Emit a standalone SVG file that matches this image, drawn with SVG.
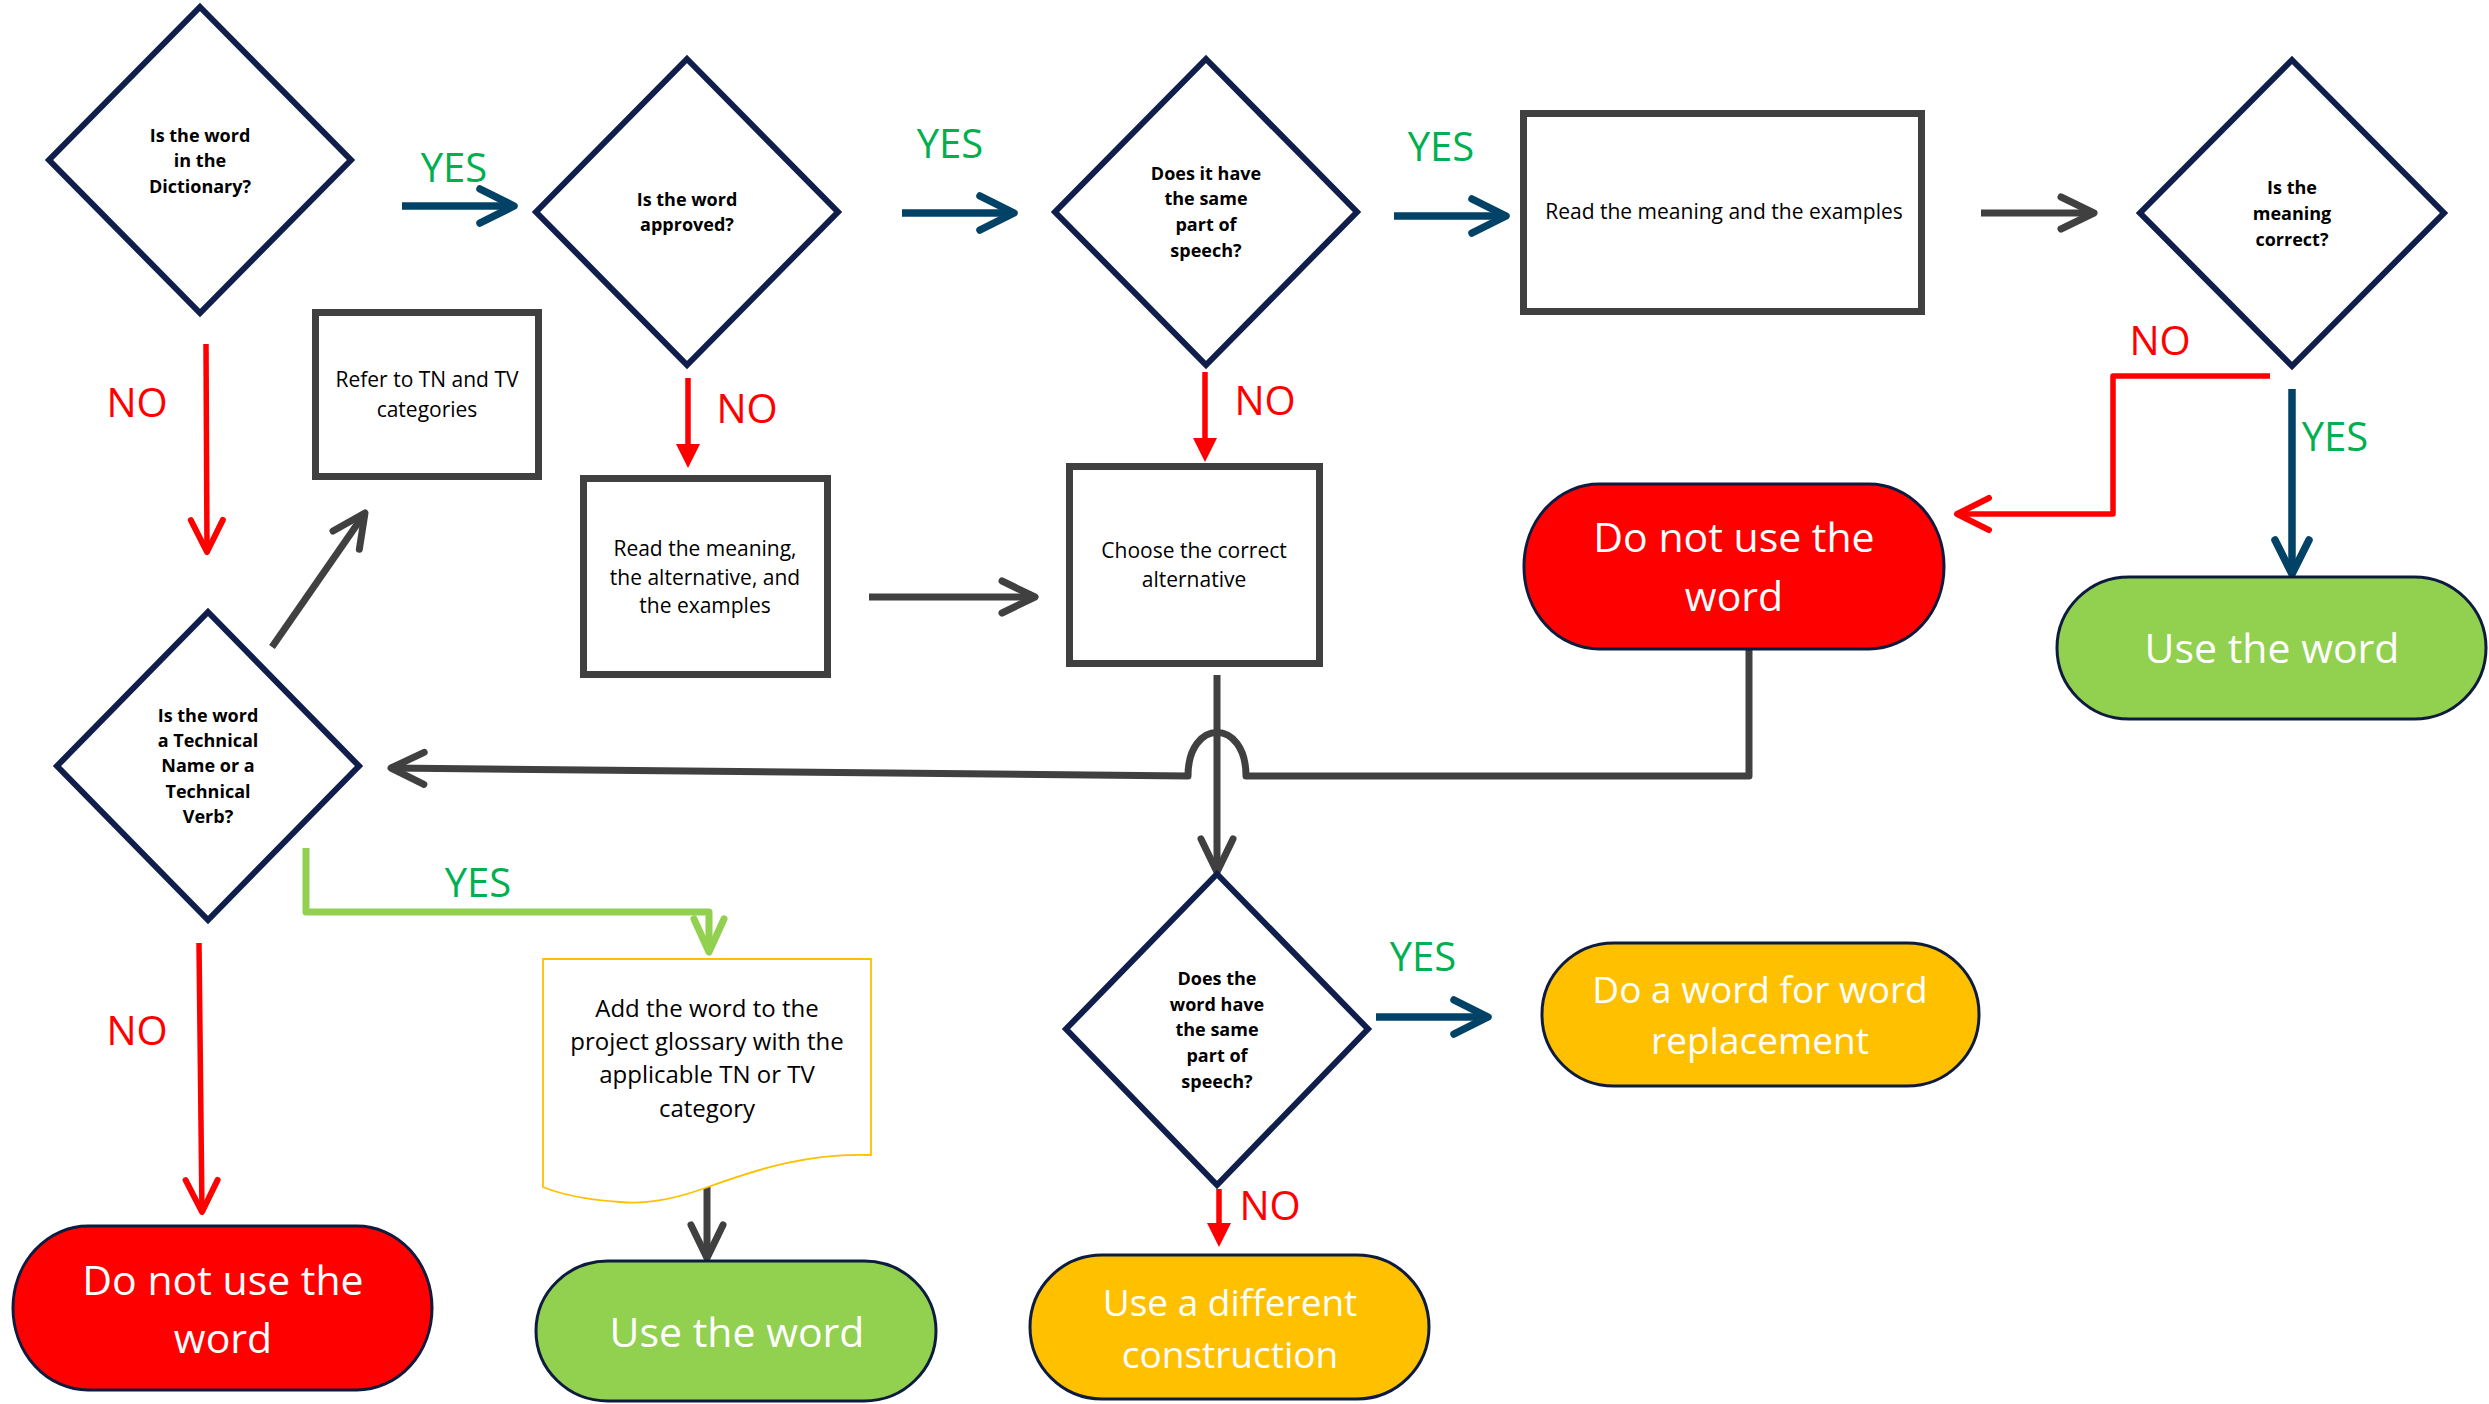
<svg xmlns="http://www.w3.org/2000/svg" width="2489" height="1404" viewBox="0 0 2489 1404">
<style>
text{font-family:"Open Sans","Liberation Sans",sans-serif;text-anchor:middle}
.dia{fill:#fff;stroke:#0F1E4B;stroke-width:6;stroke-linejoin:miter}
.dt{font-size:18px;font-weight:bold;fill:#000}
.box{fill:#fff;stroke:#404040;stroke-width:7}
.bt{font-size:21px;fill:#000}
.term{stroke:#0D1B3E;stroke-width:3}
.tt{fill:#fff}
.yes{font-size:40px;fill:#00B050}
.no{font-size:40px;fill:#FF0000}
.c{fill:none;stroke-linejoin:round}
.blue{stroke:#024266;stroke-width:7.5}
.gray{stroke:#404040;stroke-width:7}
.red{stroke:#FF0000;stroke-width:5.5}
.green{stroke:#92D050;stroke-width:7}
</style>
<defs>
<marker id="mBlue" markerUnits="userSpaceOnUse" orient="auto" refX="0" refY="0" viewBox="-40 -22 48 44" markerWidth="48" markerHeight="44" overflow="visible"><path d="M-34,-17 L0,0 L-34,17" fill="none" stroke="#024266" stroke-width="7.5" stroke-linecap="round" stroke-linejoin="round"/></marker>
<marker id="mGray" markerUnits="userSpaceOnUse" orient="auto" refX="0" refY="0" viewBox="-40 -22 48 44" markerWidth="48" markerHeight="44" overflow="visible"><path d="M-33,-16 L0,0 L-33,16" fill="none" stroke="#404040" stroke-width="7" stroke-linecap="round" stroke-linejoin="round"/></marker>
<marker id="mRed" markerUnits="userSpaceOnUse" orient="auto" refX="0" refY="0" viewBox="-40 -22 48 44" markerWidth="48" markerHeight="44" overflow="visible"><path d="M-32,-16 L0,0 L-32,16" fill="none" stroke="#FF0000" stroke-width="6" stroke-linecap="round" stroke-linejoin="round"/></marker>
<marker id="mGreen" markerUnits="userSpaceOnUse" orient="auto" refX="0" refY="0" viewBox="-40 -22 48 44" markerWidth="48" markerHeight="44" overflow="visible"><path d="M-33,-15 L0,0 L-33,15" fill="none" stroke="#92D050" stroke-width="7" stroke-linecap="round" stroke-linejoin="round"/></marker>
<marker id="mTri" markerUnits="userSpaceOnUse" orient="auto" refX="0" refY="0" viewBox="-6 -14 30 28" markerWidth="30" markerHeight="28" overflow="visible"><path d="M-3,-12 L21,0 L-3,12 Z" fill="#FF0000"/></marker>
</defs>
<rect width="2489" height="1404" fill="#fff"/>

<g id="connectors">
<path class="c blue" d="M402,206 H514" marker-end="url(#mBlue)"/>
<path class="c blue" d="M902,213 H1014" marker-end="url(#mBlue)"/>
<path class="c blue" d="M1394,216 H1506" marker-end="url(#mBlue)"/>
<path class="c gray" d="M1981,213 H2094" marker-end="url(#mGray)"/>
<path class="c red" d="M2270,376 H2113 V514 H1957" marker-end="url(#mRed)"/>
<path class="c blue" d="M2292,389 V574" marker-end="url(#mBlue)"/>
<path class="c red" d="M206,344 L207,552" marker-end="url(#mRed)"/>
<path class="c red" d="M688,378 V447" marker-end="url(#mTri)"/>
<path class="c red" d="M1205,372 V441" marker-end="url(#mTri)"/>
<path class="c gray" d="M272,647 L365,513" marker-end="url(#mGray)"/>
<path class="c gray" d="M869,597 H1035" marker-end="url(#mGray)"/>
<path class="c gray" d="M1749,649 V776 H1246 C1246,718 1188,718 1188,776 L391,768" marker-end="url(#mGray)"/>
<path class="c gray" d="M1217,675 V872" marker-end="url(#mGray)"/>
<path class="c green" d="M306,848 V912 H709 V952" marker-end="url(#mGreen)"/>
<path class="c red" d="M199,943 L202,1212" marker-end="url(#mRed)"/>
<path class="c gray" d="M707,1187 V1258" marker-end="url(#mGray)"/>
<path class="c blue" d="M1376,1017 H1488" marker-end="url(#mBlue)"/>
<path class="c red" d="M1219,1189 V1226" marker-end="url(#mTri)"/>
<text class="yes" x="454" y="182">YES</text>
<text class="yes" x="950" y="158">YES</text>
<text class="yes" x="1441" y="161">YES</text>
<text class="no" x="137" y="417">NO</text>
<text class="no" x="747" y="423">NO</text>
<text class="no" x="1265" y="415">NO</text>
<text class="no" x="2160" y="355">NO</text>
<text class="yes" x="2335" y="451">YES</text>
<text class="yes" x="478" y="897">YES</text>
<text class="no" x="137" y="1045">NO</text>
<text class="yes" x="1423" y="971">YES</text>
<text class="no" x="1270" y="1220">NO</text>
</g>

<g id="d1">
<polygon class="dia" points="200,7 351,160 200,313 49,160"/>
<text class="dt" x="200" y="142">Is the word</text>
<text class="dt" x="200" y="167">in the</text>
<text class="dt" x="200" y="193">Dictionary?</text>
</g>
<g id="d2">
<polygon class="dia" points="687,59 838,212 687,365 536,212"/>
<text class="dt" x="687" y="206">Is the word</text>
<text class="dt" x="687" y="231">approved?</text>
</g>
<g id="d3">
<polygon class="dia" points="1206,59 1357,212 1206,365 1055,212"/>
<text class="dt" x="1206" y="180">Does it have</text>
<text class="dt" x="1206" y="205">the same</text>
<text class="dt" x="1206" y="231">part of</text>
<text class="dt" x="1206" y="257">speech?</text>
</g>
<g id="b-read">
<rect class="box" x="1523.5" y="113.5" width="398" height="198"/>
<text class="bt" x="1724" y="219">Read the meaning and the examples</text>
</g>
<g id="d5">
<polygon class="dia" points="2292,60 2444,213 2292,366 2140,213"/>
<text class="dt" x="2292" y="194">Is the</text>
<text class="dt" x="2292" y="220">meaning</text>
<text class="dt" x="2292" y="246">correct?</text>
</g>
<g id="b-refer">
<rect class="box" x="315.5" y="312.5" width="223" height="164"/>
<text class="bt" x="427" y="387">Refer to TN and TV</text>
<text class="bt" x="427" y="417">categories</text>
</g>
<g id="b-readalt">
<rect class="box" x="583.5" y="478.5" width="244" height="196"/>
<text class="bt" x="705" y="556">Read the meaning,</text>
<text class="bt" x="705" y="585">the alternative, and</text>
<text class="bt" x="705" y="613">the examples</text>
</g>
<g id="b-choose">
<rect class="box" x="1069.5" y="466.5" width="250" height="197"/>
<text class="bt" x="1194" y="558">Choose the correct</text>
<text class="bt" x="1194" y="587">alternative</text>
</g>
<g id="t-red1">
<rect class="term" x="1524" y="484" width="420" height="165" rx="75" ry="82" fill="#FF0000"/>
<text class="tt" x="1734" y="552" font-size="41">Do not use the</text>
<text class="tt" x="1734" y="611" font-size="41">word</text>
</g>
<g id="t-green1">
<rect class="term" x="2057" y="577" width="429" height="142" rx="72" ry="71" fill="#92D050"/>
<text class="tt" x="2272" y="663" font-size="41">Use the word</text>
</g>
<g id="d4">
<polygon class="dia" points="208,612 359,766 208,920 57,766"/>
<text class="dt" x="208" y="722">Is the word</text>
<text class="dt" x="208" y="747">a Technical</text>
<text class="dt" x="208" y="772">Name or a</text>
<text class="dt" x="208" y="798">Technical</text>
<text class="dt" x="208" y="823">Verb?</text>
</g>
<g id="doc">
<path d="M543,959 H871 V1155 C810,1153 760,1168 708,1187 C670,1201 640,1204 620,1202 C590,1200 565,1196 543,1187 Z" fill="#fff" stroke="#FFC000" stroke-width="1.8"/>
<text x="707" y="1017" font-size="24">Add the word to the</text>
<text x="707" y="1050" font-size="24">project glossary with the</text>
<text x="707" y="1083" font-size="24">applicable TN or TV</text>
<text x="707" y="1117" font-size="24">category</text>
</g>
<g id="d6">
<polygon class="dia" points="1217,874 1368,1029 1217,1185 1066,1029"/>
<text class="dt" x="1217" y="985">Does the</text>
<text class="dt" x="1217" y="1011">word have</text>
<text class="dt" x="1217" y="1036">the same</text>
<text class="dt" x="1217" y="1062">part of</text>
<text class="dt" x="1217" y="1088">speech?</text>
</g>
<g id="t-orange1">
<rect class="term" x="1542" y="943" width="437" height="143" rx="72" ry="71" fill="#FFC000"/>
<text class="tt" x="1760" y="1003" font-size="37">Do a word for word</text>
<text class="tt" x="1760" y="1054" font-size="37">replacement</text>
</g>
<g id="t-red2">
<rect class="term" x="13" y="1226" width="419" height="164" rx="75" ry="82" fill="#FF0000"/>
<text class="tt" x="223" y="1295" font-size="41">Do not use the</text>
<text class="tt" x="223" y="1353" font-size="41">word</text>
</g>
<g id="t-green2">
<rect class="term" x="536" y="1261" width="400" height="140" rx="72" ry="70" fill="#92D050"/>
<text class="tt" x="737" y="1347" font-size="41">Use the word</text>
</g>
<g id="t-orange2">
<rect class="term" x="1030" y="1255" width="399" height="144" rx="72" ry="72" fill="#FFC000"/>
<text class="tt" x="1230" y="1316" font-size="37">Use a different</text>
<text class="tt" x="1230" y="1368" font-size="37">construction</text>
</g>
</svg>
